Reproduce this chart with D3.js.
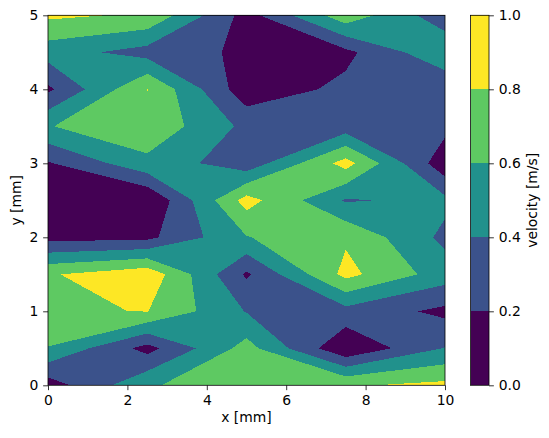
<!DOCTYPE html>
<html>
<head>
<meta charset="utf-8">
<script src="https://cdn.jsdelivr.net/npm/d3@7"></script>
<style>
  body { margin: 0; background: #fff; }
  svg { display: block; }
</style>
</head>
<body>
<div class="container"></div>
<script>
// grid nodes
var xNodes = [0, 2.5, 5, 7.5, 10];
var yNodes = [0, 0.5, 1, 1.5, 2, 2.5, 3, 3.5, 4, 4.5, 5];

// velocity [m/s], one row per y node, bottom row (y = 0) first
var velocity = [
    [0.095, 0.57, 0.78, 0.78, 0.85],
    [0.59, 0.13, 0.68, 0.02, 0.41],
    [0.78, 0.805, 0.39, 0.33, 0.15],
    [0.78, 0.94, 0.17, 0.86, 0.50],
    [0.13, 0.15, 0.59, 0.77, 0.35],
    [0.05, 0.0, 0.88, 0.38, 0.45],
    [0.18, 0.545, 0.27, 0.88, 0.06],
    [0.59, 0.75, 0.35, 0.29, 0.26],
    [0.16, 0.805, 0.07, 0.25, 0.22],
    [0.49, 0.32, 0.16, 0.15, 0.57],
    [0.84, 0.77, 0.12, 0.73, 0.27]
];

var levels = [0, 0.2, 0.4, 0.6, 0.8, 1.0];
var xTicks = [0, 2, 4, 6, 8, 10];
var yTicks = [0, 1, 2, 3, 4, 5];
var cbTicks = [0, 0.2, 0.4, 0.6, 0.8, 1.0];

var WIDTH = 549, HEIGHT = 438;
var LEFT = 48, RIGHT = 445, TOP = 15.3, BOTTOM = 385.3;
var CB_LEFT = 470.5, CB_RIGHT = 489;
var TICK = 4.86, FONT = 13.9;

var bandColor = function (i) {
    return d3.interpolateViridis(i / (levels.length - 2));
};

// marching squares on one grid cell: polygons where velocity >= t
// saddles are split by the mean of the four corners, like matplotlib
var cellPolygons = function (i, j, t) {
    var corners = [[i, j], [i + 1, j], [i + 1, j + 1], [i, j + 1]];
    var v = corners.map(function (c) { return velocity[c[1]][c[0]]; });
    var up = v.map(function (z) { return z >= t; });
    var count = up.filter(Boolean).length;
    if (count === 0) return [];
    var node = function (k) { return [xNodes[corners[k][0]], yNodes[corners[k][1]]]; };
    var cross = function (a, b) {
        var f = (t - v[a]) / (v[b] - v[a]);
        var pa = node(a), pb = node(b);
        return [pa[0] + f * (pb[0] - pa[0]), pa[1] + f * (pb[1] - pa[1])];
    };
    if (count === 2 && up[0] === up[2] && d3.mean(v) < t) {
        var parts = [];
        for (var k = 0; k < 4; k++) {
            if (up[k]) parts.push([node(k), cross(k, (k + 1) % 4), cross((k + 3) % 4, k)]);
        }
        return parts;
    }
    var poly = [];
    for (var k = 0; k < 4; k++) {
        var n = (k + 1) % 4;
        if (up[k]) poly.push(node(k));
        if (up[k] !== up[n]) poly.push(cross(k, n));
    }
    return [poly];
};

var loadChart = function () {
    var svg = d3.select('.container').append('svg')
        .attr('width', WIDTH).attr('height', HEIGHT);

    var xScale = d3.scaleLinear().domain([0, 10]).range([LEFT, RIGHT]);
    var yScale = d3.scaleLinear().domain([0, 5]).range([BOTTOM, TOP]);

    var ring = d3.line()
        .x(function (p) { return xScale(p[0]); })
        .y(function (p) { return yScale(p[1]); })
        .curve(d3.curveLinearClosed);

    var layers = levels.slice(0, -1).map(function (t) {
        var polys = [];
        for (var j = 0; j < yNodes.length - 1; j++) {
            for (var i = 0; i < xNodes.length - 1; i++) {
                polys = polys.concat(cellPolygons(i, j, t));
            }
        }
        return polys.map(ring).join('');
    });

    svg.append('g')
        .selectAll('path')
        .data(layers)
        .enter().append('path')
        .attr('d', function (d) { return d; })
        .attr('fill', function (d, i) { return bandColor(i); })
        .attr('shape-rendering', 'crispEdges');

    // axes
    var xAxis = svg.append('g')
        .attr('transform', 'translate(0,' + BOTTOM + ')')
        .call(d3.axisBottom(xScale).tickValues(xTicks).tickFormat(d3.format('d'))
            .tickSize(TICK).tickPadding(TICK).tickSizeOuter(0));
    var yAxis = svg.append('g')
        .attr('transform', 'translate(' + LEFT + ',0)')
        .call(d3.axisLeft(yScale).tickValues(yTicks).tickFormat(d3.format('d'))
            .tickSize(TICK).tickPadding(TICK).tickSizeOuter(0));

    svg.append('rect')
        .attr('x', LEFT).attr('y', TOP)
        .attr('width', RIGHT - LEFT).attr('height', BOTTOM - TOP)
        .attr('fill', 'none').attr('stroke', '#000').attr('stroke-width', 0.8);

    svg.append('text')
        .attr('x', (LEFT + RIGHT) / 2).attr('y', 422)
        .attr('text-anchor', 'middle')
        .text('x [mm]');
    svg.append('text')
        .attr('transform', 'translate(21,' + (TOP + BOTTOM) / 2 + ') rotate(-90)')
        .attr('text-anchor', 'middle')
        .text('y [mm]');

    // colorbar
    var cbScale = d3.scaleLinear().domain([0, 1]).range([BOTTOM, TOP]);
    svg.append('g').selectAll('rect')
        .data(d3.range(levels.length - 1))
        .enter().append('rect')
        .attr('x', CB_LEFT).attr('width', CB_RIGHT - CB_LEFT)
        .attr('y', function (i) { return cbScale(levels[i + 1]); })
        .attr('height', function (i) { return cbScale(levels[i]) - cbScale(levels[i + 1]); })
        .attr('fill', function (i) { return bandColor(i); })
        .attr('shape-rendering', 'crispEdges');
    var cbAxis = svg.append('g')
        .attr('transform', 'translate(' + CB_RIGHT + ',0)')
        .call(d3.axisRight(cbScale).tickValues(cbTicks).tickFormat(d3.format('.1f'))
            .tickSize(TICK).tickPadding(TICK).tickSizeOuter(0));
    svg.append('rect')
        .attr('x', CB_LEFT).attr('y', TOP)
        .attr('width', CB_RIGHT - CB_LEFT).attr('height', BOTTOM - TOP)
        .attr('fill', 'none').attr('stroke', '#000').attr('stroke-width', 0.8);
    svg.append('text')
        .attr('transform', 'translate(537,' + (TOP + BOTTOM) / 2 + ') rotate(-90)')
        .attr('text-anchor', 'middle')
        .text('velocity [m/s]');

    [xAxis, yAxis, cbAxis].forEach(function (g) {
        g.attr('font-size', FONT).attr('font-family', 'DejaVu Sans');
        g.select('.domain').remove();
        g.selectAll('line').attr('stroke', '#000').attr('stroke-width', 0.8);
    });
    svg.selectAll('text').filter(function () { return !this.getAttribute('font-size'); })
        .attr('font-family', 'DejaVu Sans').attr('font-size', FONT);
};

window.onload = loadChart;
</script>
</body>
</html>
